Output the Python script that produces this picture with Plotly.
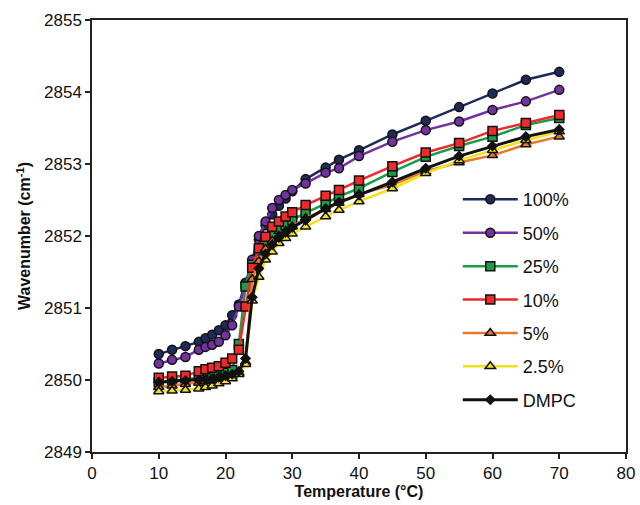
import plotly.graph_objects as go

# temperatura (°C)
temp = [10, 12, 14, 16, 17, 18, 19, 20, 21, 22, 23, 24, 25, 26, 27, 28, 29, 30,
        32, 35, 37, 40, 45, 50, 55, 60, 65, 70]

# numero de onda (cm-1) por serie
w100 = [2850.36, 2850.42, 2850.47, 2850.53, 2850.58, 2850.63, 2850.69, 2850.76, 2850.90, 2851.05,
        2851.35, 2851.65, 2851.95, 2852.15, 2852.30, 2852.42, 2852.52, 2852.62,
        2852.79, 2852.95, 2853.06, 2853.19, 2853.41, 2853.60, 2853.79, 2853.98, 2854.17, 2854.28]
w50 = [2850.23, 2850.28, 2850.32, 2850.42, 2850.46, 2850.49, 2850.53, 2850.62, 2850.76, 2851.02,
       2851.30, 2851.67, 2852.00, 2852.20, 2852.39, 2852.50, 2852.57, 2852.64,
       2852.73, 2852.88, 2852.94, 2853.11, 2853.31, 2853.47, 2853.59, 2853.75, 2853.87, 2854.03]
w25 = [2849.97, 2849.99, 2850.00, 2850.02, 2850.04, 2850.05, 2850.07, 2850.10, 2850.14, 2850.50,
       2851.30, 2851.60, 2851.80, 2851.93, 2852.03, 2852.10, 2852.15, 2852.22,
       2852.32, 2852.45, 2852.55, 2852.66, 2852.89, 2853.10, 2853.25, 2853.38, 2853.54, 2853.64]
w10 = [2850.03, 2850.05, 2850.06, 2850.12, 2850.15, 2850.17, 2850.19, 2850.24, 2850.30, 2850.42,
       2851.02, 2851.56, 2851.83, 2851.99, 2852.13, 2852.20, 2852.27, 2852.33,
       2852.43, 2852.56, 2852.64, 2852.77, 2852.97, 2853.16, 2853.29, 2853.46, 2853.57, 2853.68]
w5 = [2849.90, 2849.92, 2849.94, 2849.96, 2849.98, 2850.00, 2850.02, 2850.04, 2850.06, 2850.10,
      2850.25, 2851.40, 2851.65, 2851.82, 2851.93, 2852.00, 2852.07, 2852.13,
      2852.25, 2852.37, 2852.46, 2852.58, 2852.71, 2852.90, 2853.02, 2853.12, 2853.27, 2853.38]
w25b = [2849.84, 2849.85, 2849.86, 2849.88, 2849.90, 2849.92, 2849.95, 2849.98, 2850.02, 2850.08,
        2850.22, 2851.10, 2851.43, 2851.67, 2851.78, 2851.90, 2851.97, 2852.03,
        2852.13, 2852.27, 2852.36, 2852.48, 2852.66, 2852.87, 2853.05, 2853.19, 2853.33, 2853.45]
dmpc = [2849.97, 2849.98, 2849.99, 2850.00, 2850.01, 2850.02, 2850.04, 2850.06, 2850.08, 2850.12,
        2850.30, 2851.15, 2851.55, 2851.75, 2851.88, 2851.98, 2852.05, 2852.12,
        2852.22, 2852.38, 2852.47, 2852.57, 2852.75, 2852.94, 2853.11, 2853.25, 2853.38, 2853.48]

nombres = ['100%', '50%', '25%', '10%', '5%', '2.5%', 'DMPC']
series = [w100, w50, w25, w10, w5, w25b, dmpc]
colores = ['#1f2a5a', '#7232a0', '#1a9c48', '#ee2a2a', '#e8782e', '#f2e21c', '#111111']
simbolos = ['circle', 'circle', 'square', 'square', 'triangle-up', 'triangle-up', 'diamond']
tamanos = [9, 9, 9, 9, 9, 9, 7]
grosor = [2.5, 2.5, 2.5, 2.5, 2.5, 2.5, 3]

fig = go.Figure()
for nombre, y, c, s, t, g in zip(nombres, series, colores, simbolos, tamanos, grosor):
    fig.add_trace(go.Scatter(
        x=temp, y=y, name=nombre, mode='lines+markers', legendgroup=nombre,
        line=dict(color=c, width=g),
        marker=dict(symbol=s, size=t, color=c, line=dict(color='#111111', width=1.5))))

fuente = 'Liberation Sans, Arial'
eje = dict(showline=True, linecolor='#222', linewidth=1.5, mirror=True,
           ticks='outside', ticklen=5, tickcolor='#222', tickwidth=1.5,
           showgrid=False, zeroline=False, automargin=False,
           tickfont=dict(family=fuente, size=17, color='#111'))

fig.update_layout(
    width=640, height=505,
    margin=dict(l=92, r=14, t=20, b=53),
    plot_bgcolor='white', paper_bgcolor='white',
    xaxis=dict(range=[0, 80], dtick=10,
               title=dict(text='<b>Temperature (°C)</b>', standoff=3,
                          font=dict(family=fuente, size=16, color='#111')),
               **eje),
    yaxis=dict(range=[2849, 2855], dtick=1,
               title=dict(text='<b>Wavenumber (cm<sup>-1</sup>)</b>', standoff=9,
                          font=dict(family=fuente, size=16, color='#111')),
               **eje),
    legend=dict(x=0.685, y=0.627, xanchor='left', yanchor='top',
                bgcolor='rgba(0,0,0,0)', itemwidth=55, tracegroupgap=7,
                font=dict(family=fuente, size=18, color='#111')),
)

fig.write_html("out.html", config={'displayModeBar': False},
               post_script="document.body.style.margin='0';")
